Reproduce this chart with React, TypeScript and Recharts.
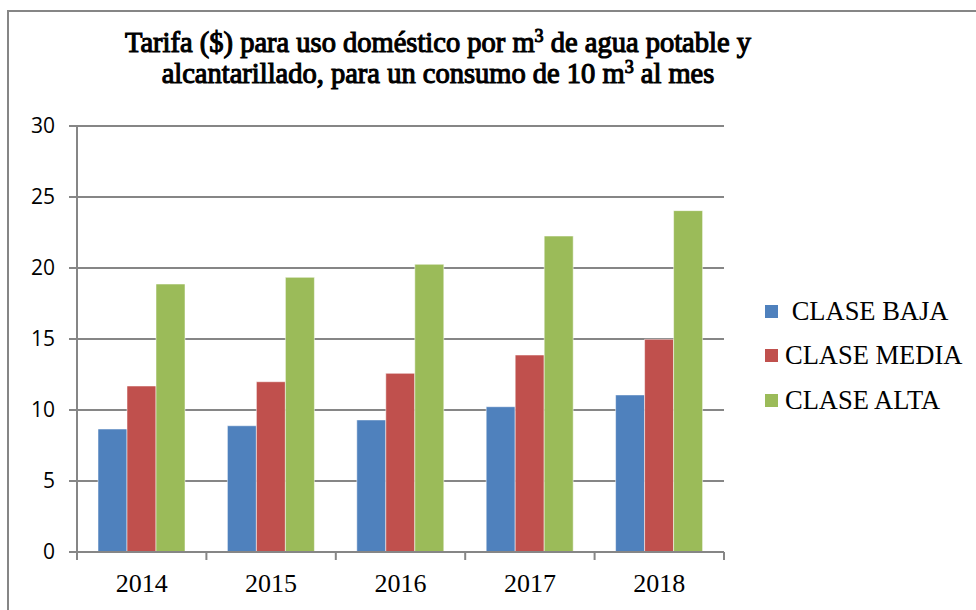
import { Bar, BarChart, CartesianGrid, XAxis, YAxis } from "recharts";

const YEARS = ["2014", "2015", "2016", "2017", "2018"];
const BAJA = [8.66, 8.89, 9.3, 10.23, 11.06];
const MEDIA = [11.69, 11.99, 12.58, 13.87, 14.98];
const ALTA = [18.87, 19.34, 20.26, 22.25, 24.04];
const Y_TICKS = [0, 5, 10, 15, 20, 25, 30];

const SERIES = [
  { key: "baja", name: " CLASE BAJA", color: "#4F81BD" },
  { key: "media", name: "CLASE MEDIA", color: "#C0504D" },
  { key: "alta", name: "CLASE ALTA", color: "#9BBB59" },
];

const data = YEARS.map((year, i) => ({ year, baja: BAJA[i], media: MEDIA[i], alta: ALTA[i] }));

const GRID = "#868686";
const SERIF = '"Liberation Serif", "Times New Roman", serif';
const BAND_HALF = (976 - 27 - 50 - 252) / YEARS.length / 2;

// year label plus the small tick marks Excel puts between categories
function YearTick(props: any) {
  const { x, y, payload, index } = props;
  const half = payload?.offset || BAND_HALF;
  return (
    <g>
      <line x1={x - half} y1={y} x2={x - half} y2={y + 8} stroke={GRID} strokeWidth={2} />
      {index === YEARS.length - 1 && (
        <line x1={x + half} y1={y} x2={x + half} y2={y + 8} stroke={GRID} strokeWidth={2} />
      )}
      <text x={x} y={y + 40} textAnchor="middle" fill="#000" fontSize={26} fontFamily={SERIF}>
        {payload.value}
      </text>
    </g>
  );
}

export default function App() {
  return (
    <div style={{ position: "absolute", left: 0, top: 0, width: 976, height: 610, overflow: "hidden", background: "#fff" }}>
      <div
        style={{
          position: "absolute",
          left: 7,
          top: 10,
          width: 1100,
          height: 800,
          border: `2px solid ${GRID}`,
        }}
      />
      <div
        style={{
          position: "absolute",
          left: 0,
          top: 27,
          width: 876,
          textAlign: "center",
          fontFamily: SERIF,
          fontWeight: 400,
          WebkitTextStroke: "1.1px #000",
          fontSize: 28.5,
          lineHeight: "31px",
          color: "#000",
        }}
      >
        Tarifa ($) para uso doméstico por m<sup style={{ fontSize: 18, lineHeight: 0 }}>3</sup> de agua potable y
        <br />
        alcantarillado, para un consumo de 10 m<sup style={{ fontSize: 18, lineHeight: 0 }}>3</sup> al mes
      </div>
      <div style={{ position: "absolute", left: 765, top: 289, fontFamily: SERIF, fontSize: 26.5, color: "#000" }}>
        {SERIES.map((s) => (
          <div key={s.key} style={{ display: "flex", alignItems: "center", height: 44.5, whiteSpace: "pre" }}>
            <span style={{ width: 13, height: 13, background: s.color, marginRight: 7, display: "inline-block" }} />
            {s.name}
          </div>
        ))}
      </div>
      <div style={{ position: "absolute", left: 0, top: 0 }}>
        <BarChart
          width={976}
          height={610}
          data={data}
          margin={{ top: 126, right: 252, left: 27, bottom: 18 }}
          barCategoryGap={21}
          barGap={0}
        >
          <CartesianGrid vertical={false} stroke={GRID} strokeWidth={2} />
          <XAxis
            dataKey="year"
            height={40}
            tickLine={false}
            tickSize={0}
            tickMargin={0}
            axisLine={{ stroke: GRID, strokeWidth: 2 }}
            tick={<YearTick />}
          />
          <YAxis
            domain={[0, 30]}
            ticks={Y_TICKS}
            width={50}
            tickSize={8}
            tickMargin={14}
            axisLine={{ stroke: GRID, strokeWidth: 2 }}
            tickLine={{ stroke: GRID, strokeWidth: 2 }}
            tick={{ fill: "#000", fontSize: 21, fontFamily: '"Open Sans", sans-serif' }}
          />
          {SERIES.map((s) => (
            <Bar
              key={s.key}
              dataKey={s.key}
              name={s.name}
              fill={s.color}
              stroke="#ffffff"
              strokeOpacity={0.5}
              strokeWidth={1}
              isAnimationActive={false}
            />
          ))}
        </BarChart>
      </div>
    </div>
  );
}
